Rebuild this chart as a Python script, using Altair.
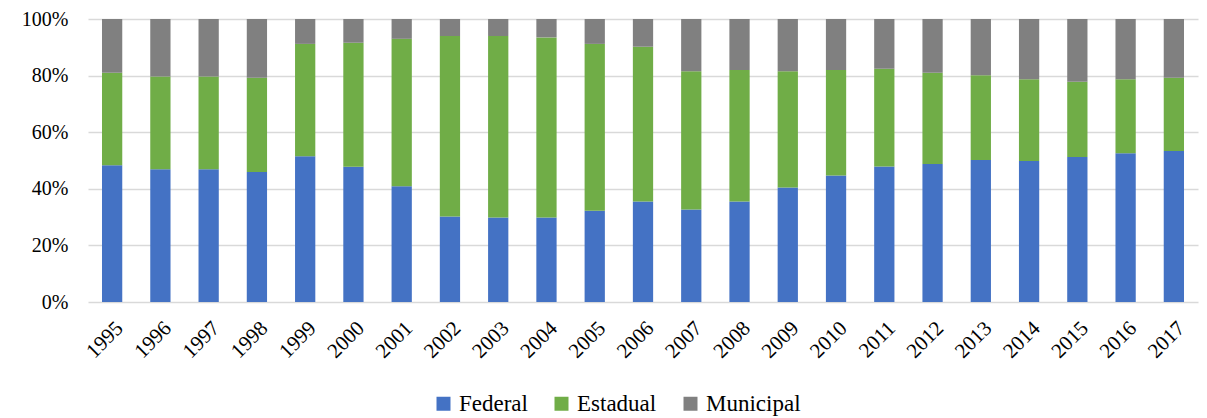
import altair as alt
import pandas as pd

years = [str(y) for y in range(1995, 2018)]
federal = [48.3, 46.9, 46.9, 45.9, 51.5, 47.8, 40.9, 30.2, 29.9, 29.9, 32.2, 35.5,
           32.7, 35.5, 40.5, 44.7, 47.9, 48.8, 50.2, 49.8, 51.2, 52.6, 53.4]
fed_plus_est = [81.0, 79.7, 79.7, 79.2, 91.2, 91.6, 93.0, 94.0, 94.0, 93.5, 91.2, 90.2,
                81.5, 82.0, 81.5, 82.0, 82.4, 81.0, 80.1, 78.7, 77.8, 78.7, 79.2]
series = ["Federal", "Estadual", "Municipal"]
colors = ["#4472C4", "#70AD47", "#808080"]

rows = []
for i, y in enumerate(years):
    f = federal[i]
    e = round(fed_plus_est[i] - federal[i], 2)
    m = round(100 - fed_plus_est[i], 2)
    for k, (s, v) in enumerate(zip(series, [f, e, m])):
        rows.append({"year": y, "series": s, "value": v, "ord": k})
df = pd.DataFrame(rows)

font = "Liberation Serif"

chart = alt.Chart(df).mark_bar().encode(
    x=alt.X("year:N", title=None,
            scale=alt.Scale(paddingInner=0.58, paddingOuter=0.29),
            axis=alt.Axis(labelAngle=-45, labelFont=font, labelFontSize=21,
                          labelColor="#000000", ticks=False, domain=False,
                          labelPadding=15)),
    y=alt.Y("value:Q", title=None, stack="zero",
            scale=alt.Scale(domain=[0, 100], nice=False),
            axis=alt.Axis(values=[0, 20, 40, 60, 80, 100],
                          labelExpr="datum.value + '%'",
                          labelFont=font, labelFontSize=20, labelColor="#000000",
                          ticks=False, domain=False, labelPadding=20,
                          gridColor="#D9D9D9", gridWidth=1.5)),
    color=alt.Color("series:N", scale=alt.Scale(domain=series, range=colors),
                    legend=alt.Legend(title=None, orient="none", direction="horizontal",
                                      legendX=344, legendY=373, padding=0,
                                      symbolType="square", symbolSize=196,
                                      symbolStrokeWidth=0,
                                      labelFont=font, labelFontSize=23,
                                      labelColor="#000000", columnPadding=22,
                                      labelOffset=4)),
    order=alt.Order("ord:Q"),
).properties(
    width=1110, height=283,
    autosize=alt.AutoSizeParams(type="none"),
    padding={"left": 80, "top": 11, "right": 1, "bottom": 116},
).configure_view(stroke=None).configure_legend(symbolOpacity=1)

chart.save("out.html", embed_options={"renderer": "svg", "actions": False})
